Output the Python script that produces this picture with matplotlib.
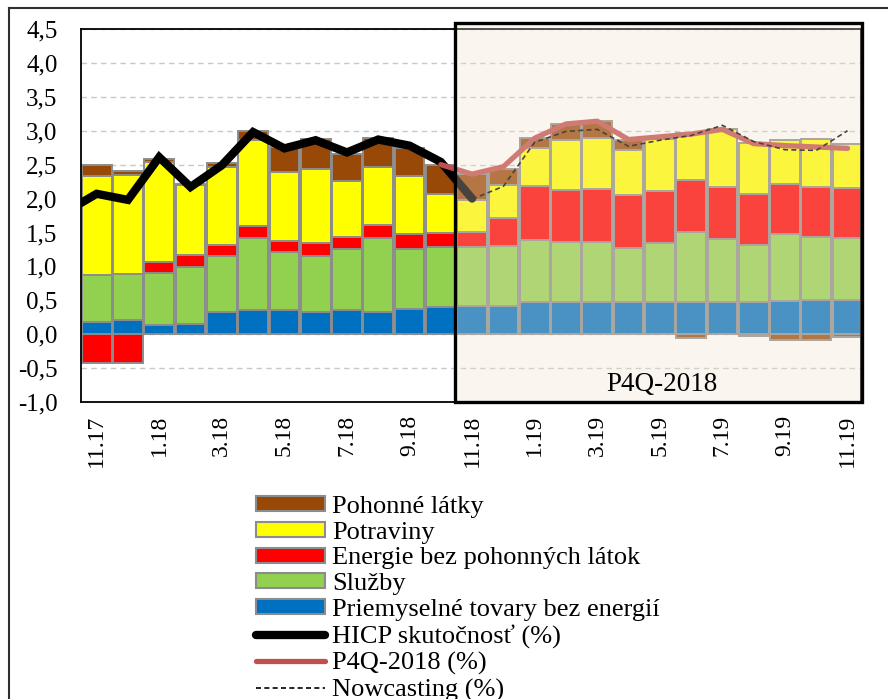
import matplotlib
matplotlib.use('Agg')
import matplotlib.pyplot as plt
from matplotlib.patches import Rectangle, Patch
from matplotlib.lines import Line2D
import numpy as np

plt.rcParams['font.family'] = ['Liberation Serif', 'DejaVu Serif']

# ---------------- data ----------------
months = ['11.17', '12.17', '1.18', '2.18', '3.18', '4.18', '5.18', '6.18', '7.18',
          '8.18', '9.18', '10.18', '11.18', '12.18', '1.19', '2.19', '3.19', '4.19',
          '5.19', '6.19', '7.19', '8.19', '9.19', '10.19', '11.19']

priemysel = [0.18, 0.21, 0.13, 0.15, 0.33, 0.35, 0.35, 0.33, 0.35, 0.32, 0.37, 0.40,
             0.41, 0.42, 0.48, 0.47, 0.47, 0.47, 0.47, 0.48, 0.47, 0.48, 0.49, 0.51, 0.51]
sluzby = [0.69, 0.68, 0.77, 0.84, 0.82, 1.07, 0.86, 0.83, 0.90, 1.10, 0.89, 0.88,
          0.87, 0.88, 0.91, 0.89, 0.89, 0.80, 0.87, 1.02, 0.94, 0.83, 0.99, 0.93, 0.91]
energie = [-0.42, -0.42, 0.16, 0.18, 0.16, 0.17, 0.17, 0.18, 0.19, 0.19, 0.21, 0.21,
           0.22, 0.42, 0.79, 0.77, 0.78, 0.78, 0.77, 0.77, 0.76, 0.76, 0.73, 0.73, 0.73]
potraviny = [1.46, 1.46, 1.48, 1.03, 1.16, 1.28, 1.01, 1.09, 0.82, 0.85, 0.86, 0.57,
             0.48, 0.48, 0.57, 0.74, 0.76, 0.66, 0.77, 0.69, 0.86, 0.75, 0.66, 0.71, 0.65]
pohonne = [0.17, 0.05, 0.05, 0.01, 0.06, 0.12, 0.37, 0.45, 0.39, 0.43, 0.42, 0.43,
           0.38, 0.24, 0.15, 0.23, 0.24, 0.16, 0.03, -0.05, 0.0, -0.03, -0.08, -0.09, -0.04]

# HICP actual: from 10.17 (one month before the first bar) to 11.18
hicp_start = -1
hicp = [1.80, 2.07, 1.98, 2.61, 2.17, 2.49, 2.98, 2.74, 2.86, 2.68, 2.87, 2.78, 2.54, 2.00]
# P4Q-2018 forecast: from 10.18 to 11.19
p4q_start = 11
p4q = [2.50, 2.36, 2.47, 2.89, 3.10, 3.14, 2.87, 2.91, 2.95, 3.02, 2.81, 2.78, 2.76, 2.74]
# Nowcasting: from 11.18 to 11.19
now_start = 12
nowcast = [1.99, 2.18, 2.83, 2.99, 3.02, 2.77, 2.86, 2.93, 3.08, 2.84, 2.72, 2.71, 3.00]

series = [
    ('Priemyselné tovary bez energií', priemysel, '#0070C0'),
    ('Služby', sluzby, '#92D050'),
    ('Energie bez pohonných látok', energie, '#FF0000'),
    ('Potraviny', potraviny, '#FFFF00'),
    ('Pohonné látky', pohonne, '#984807'),
]

# ---------------- figure ----------------
W, H = 888, 699
fig = plt.figure(figsize=(W / 100, H / 100), dpi=100)
ax = fig.add_axes([81 / W, 1 - 402 / H, (861 - 81) / W, (402 - 29) / H])

x = np.arange(len(months))
pos_base = np.zeros(len(months))
neg_base = np.zeros(len(months))
edge = '#8c8c8c'
for name, vals, col in series:
    v = np.array(vals, dtype=float)
    bottoms = np.where(v >= 0, pos_base, neg_base)
    ax.bar(x, v, bottom=bottoms, width=0.95, color=col, edgecolor=edge,
           linewidth=1.4, zorder=2)
    pos_base = pos_base + np.where(v >= 0, v, 0)
    neg_base = neg_base + np.where(v < 0, v, 0)

ax.plot(np.arange(len(hicp)) + hicp_start, hicp, color='black', lw=6.0,
        solid_capstyle='round', solid_joinstyle='miter', zorder=4)
ax.plot(np.arange(len(p4q)) + p4q_start, p4q, color='#C0504D', lw=3.8,
        solid_capstyle='round', zorder=5)
ax.plot(np.arange(len(nowcast)) + now_start, nowcast, color='black', lw=1.2,
        dashes=(3, 2), zorder=6)

ax.set_xlim(-0.5, 24.43)
ax.set_ylim(-1.0, 4.5)
yt = np.arange(-1.0, 4.51, 0.5)
ax.set_yticks(yt)
ax.set_yticklabels([f'{t:.1f}'.replace('.', ',') for t in yt], fontsize=18)
ax.set_xticks(x[::2])
ax.set_xticklabels(months[::2], rotation=90, fontsize=17)
ax.tick_params(axis='y', length=0, pad=17)
ax.tick_params(axis='x', length=0, pad=9)
ax.yaxis.grid(True, linestyle=(0, (4, 3)), color='#c8c8c8', lw=1.0)
ax.set_axisbelow(True)
for s in ax.spines.values():
    s.set_color('black')
    s.set_linewidth(1.3)

# forecast highlight box
box = Rectangle((11.455, -1.0), 24.46 - 11.455, 5.59,
                facecolor=(245 / 255, 225 / 255, 205 / 255, 0.3),
                edgecolor='black', linewidth=2.4, zorder=10, clip_on=False)
ax.add_patch(box)
ax.text(18.07, -0.74, 'P4Q-2018', ha='center', va='center', fontsize=19.5, zorder=11)

# legend
handles = [
    Patch(facecolor='#984807', edgecolor=edge, linewidth=1.5),
    Patch(facecolor='#FFFF00', edgecolor=edge, linewidth=1.5),
    Patch(facecolor='#FF0000', edgecolor=edge, linewidth=1.5),
    Patch(facecolor='#92D050', edgecolor=edge, linewidth=1.5),
    Patch(facecolor='#0070C0', edgecolor=edge, linewidth=1.5),
    Line2D([], [], color='black', lw=6.0, solid_capstyle='round'),
    Line2D([], [], color='#C0504D', lw=3.8, solid_capstyle='round'),
    Line2D([], [], color='black', lw=1.2, dashes=(3, 2)),
]
labels = ['Pohonné látky', 'Potraviny', 'Energie bez pohonných látok', 'Služby',
          'Priemyselné tovary bez energií', 'HICP skutočnosť (%)', 'P4Q-2018 (%)',
          'Nowcasting (%)']
fig.legend(handles, labels, loc='upper left', bbox_to_anchor=(256 / W, 1 - 496 / H),
           frameon=False, fontsize=19, handlelength=2.62, handleheight=0.5,
           labelspacing=0.14, handletextpad=0.27, borderpad=0, borderaxespad=0)

# outer frame
fig.add_artist(Line2D([9 / W, 1], [1 - 8 / H, 1 - 8 / H], transform=fig.transFigure,
                      color='#303030', lw=1.5))
fig.add_artist(Line2D([9 / W, 9 / W], [0, 1 - 8 / H], transform=fig.transFigure,
                      color='#303030', lw=1.5))

fig.savefig('out.png', dpi=100)
